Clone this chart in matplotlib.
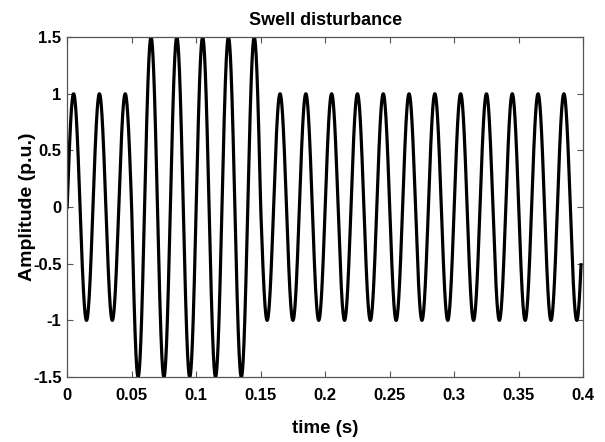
import numpy as np
import matplotlib
matplotlib.use('Agg')
import matplotlib.pyplot as plt

# signal parameters
FREQ_HZ = 50
T_START, T_END = 0.0, 0.3983
SWELL_START, SWELL_END = 0.05, 0.15
NORMAL_AMP = 1.0
SWELL_AMP = 1.5

X_TICKS = [0, 0.05, 0.1, 0.15, 0.2, 0.25, 0.3, 0.35, 0.4]
X_TICK_LABELS = ['0', '0.05', '0.1', '0.15', '0.2', '0.25', '0.3', '0.35', '0.4']
Y_TICKS = [-1.5, -1, -0.5, 0, 0.5, 1, 1.5]
Y_TICK_LABELS = ['-1.5', '-1', '-0.5', '0', '0.5', '1', '1.5']

t = np.linspace(T_START, T_END, 8000)
amp = np.where((t >= SWELL_START) & (t < SWELL_END), SWELL_AMP, NORMAL_AMP)
v = amp * np.sin(2 * np.pi * FREQ_HZ * t)

plt.rcParams['font.family'] = ['Liberation Sans', 'DejaVu Sans']
plt.rcParams['font.weight'] = 'bold'

fig = plt.figure(figsize=(6.05, 4.42), dpi=100)
ax = fig.add_axes([0.111, 0.147, 0.853, 0.769])
ax.plot(t, v, color='black', lw=2.3)

ax.set_xlim(0, 0.4)
ax.set_ylim(-1.5, 1.5)
ax.set_xticks(X_TICKS)
ax.set_xticklabels(X_TICK_LABELS)
ax.set_yticks(Y_TICKS)
ax.set_yticklabels(Y_TICK_LABELS)
ax.tick_params(direction='in', top=True, right=True, length=4, width=0.8,
               color='#555555', labelsize=12)
ax.tick_params(axis='x', pad=8)
ax.tick_params(axis='y', pad=4)
for s in ax.spines.values():
    s.set_color('#555555')
    s.set_linewidth(0.9)

ax.set_title('Swell disturbance', fontsize=13, fontweight='bold', pad=9)
ax.set_xlabel('time (s)', fontsize=13.5, fontweight='bold', labelpad=12)
ax.set_ylabel('Amplitude (p.u.)', fontsize=14, fontweight='bold', labelpad=-2)

plt.savefig('out.png', dpi=100)
plt.close()
